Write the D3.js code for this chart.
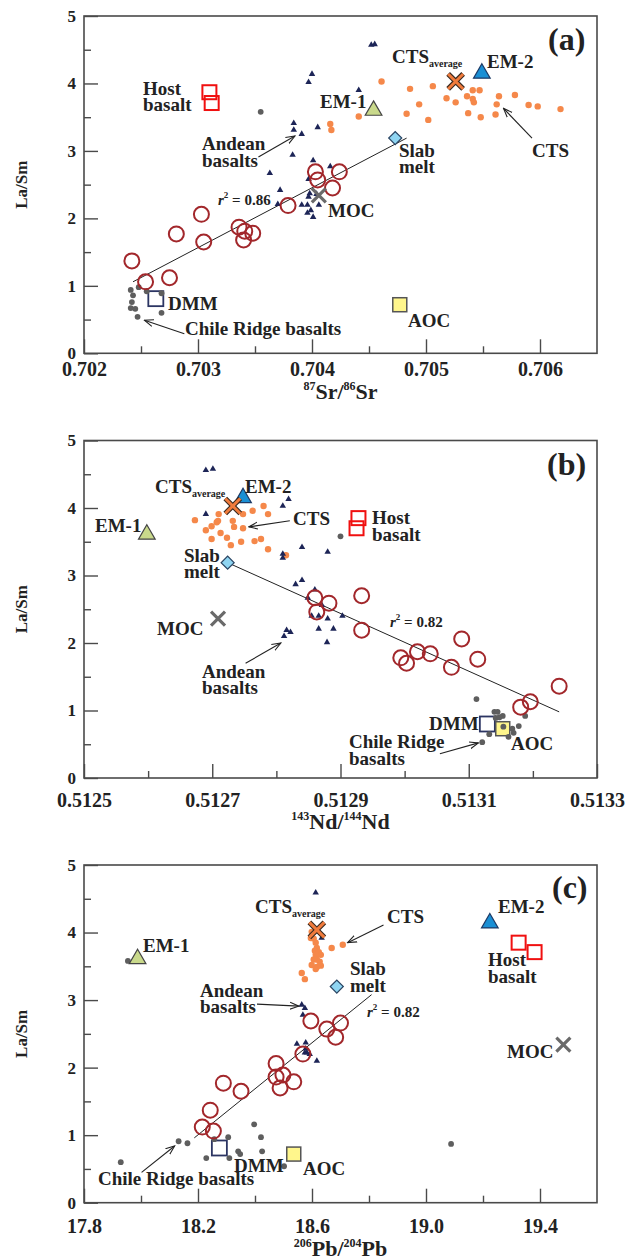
<!DOCTYPE html>
<html>
<head>
<meta charset="utf-8">
<script src="https://cdn.jsdelivr.net/npm/d3@7"></script>
<style>
body { margin: 0; background: #fff; }
text { font-family: "Liberation Serif", "Times New Roman", serif; font-weight: bold; fill: #222; }
</style>
</head>
<body>
<svg id="chart" width="629" height="1260"></svg>
<script>
// ---- panel (a): La/Sm vs 87Sr/86Sr
var aCircles = [[0.70242,1.37],[0.70254,1.06],[0.70275,1.12],[0.70281,1.77],[0.70303,2.06],[0.70305,1.65],[0.70336,1.87],[0.70341,1.81],[0.70340,1.68],[0.70348,1.78],[0.70379,2.19],[0.70403,2.69],[0.70405,2.57],[0.70424,2.69],[0.70418,2.45]];
var aAndean = [[0.70400,4.14],[0.70397,4.02],[0.70384,3.41],[0.70384,3.31],[0.70391,3.25],[0.70405,3.35],[0.70383,2.94],[0.70401,2.86],[0.70363,2.67],[0.70416,2.77],[0.70397,2.58],[0.70372,2.42],[0.70370,2.21],[0.70398,2.37],[0.70397,2.32],[0.70404,2.36],[0.70391,2.20],[0.70396,2.20],[0.70399,2.12],[0.70406,2.20],[0.70401,2.02],[0.70396,2.08],[0.70452,4.57],[0.70455,4.58],[0.70441,3.90]];
var aChile = [[0.70241,0.94],[0.70243,0.86],[0.70242,0.76],[0.70241,0.67],[0.70245,0.66],[0.70248,0.98],[0.70247,0.54],[0.70268,0.89],[0.70268,0.60],[0.70255,0.92],[0.70355,3.58]];
var aCTS = [[0.70461,4.03],[0.70486,3.92],[0.70506,3.96],[0.70518,3.78],[0.70526,3.72],[0.70536,3.81],[0.70541,3.90],[0.70547,3.90],[0.70541,3.77],[0.70542,3.72],[0.70494,3.69],[0.70483,3.55],[0.70502,3.46],[0.70537,3.56],[0.70548,3.50],[0.70561,3.54],[0.70562,3.69],[0.70564,3.81],[0.70578,3.83],[0.70590,3.68],[0.70598,3.66],[0.70618,3.62],[0.70441,3.51],[0.70416,3.40],[0.70417,3.31]];
var aHost = [[0.70310,3.87],[0.70312,3.71]];
var aEnds = { em1: [0.70454,3.60], em2: [0.70549,4.15], avg: [0.70526,4.03], slab: [0.70473,3.19], moc: [0.70406,2.34], dmm: [0.70263,0.81], aoc: [0.70477,0.72] };
var aFit = [[0.70243,1.06],[0.70483,3.19]];
var aArrows = [[[0.70353,2.91],[0.70385,3.22]], [[0.70593,3.19],[0.70568,3.63]], [[0.70288,0.29],[0.70253,0.49]]];

// ---- panel (b): La/Sm vs 143Nd/144Nd
var bCircles = [[0.512860,2.67],[0.512882,2.59],[0.512863,2.46],[0.512933,2.70],[0.512933,2.19],[0.512994,1.78],[0.513003,1.70],[0.513020,1.87],[0.513040,1.84],[0.513073,1.64],[0.513089,2.06],[0.513114,1.76],[0.513181,1.05],[0.513196,1.13],[0.513241,1.36]];
var bAndean = [[0.512690,4.56],[0.512701,4.58],[0.512690,3.91],[0.512810,4.03],[0.512819,4.13],[0.512810,3.32],[0.512810,3.26],[0.512840,3.42],[0.512880,3.35],[0.512830,2.87],[0.512840,2.93],[0.512860,2.79],[0.512849,2.67],[0.512871,2.56],[0.512816,2.19],[0.512822,2.16],[0.512812,2.10],[0.512855,2.40],[0.512866,2.40],[0.512880,2.36],[0.512866,2.21],[0.512889,2.21],[0.512879,2.01],[0.512903,2.40]];
var bChile = [[0.513112,1.17],[0.513140,0.98],[0.513145,0.98],[0.513142,0.89],[0.513153,0.92],[0.513188,0.92],[0.513154,0.76],[0.513168,0.73],[0.513178,0.77],[0.513170,0.67],[0.513162,0.61],[0.513132,0.65],[0.513121,0.53],[0.513148,0.90],[0.512900,3.58]];
var bCTS = [[0.512673,3.82],[0.512690,3.67],[0.512699,3.73],[0.512699,3.54],[0.512707,3.79],[0.512710,3.91],[0.512709,3.81],[0.512713,3.63],[0.512723,3.56],[0.512729,3.45],[0.512732,3.81],[0.512734,3.72],[0.512745,3.50],[0.512748,3.91],[0.512748,3.70],[0.512763,3.96],[0.512780,4.03],[0.512787,3.91],[0.512766,3.51],[0.512776,3.54],[0.512787,3.39],[0.512815,3.30]];
var bHost = [[0.512928,3.85],[0.512925,3.70]];
var bEnds = { em1: [0.512598,3.61], em2: [0.512748,4.15], avg: [0.512732,4.03], slab: [0.512724,3.19], moc: [0.512709,2.36], dmm: [0.513129,0.80], aoc: [0.513153,0.73] };
var bFit = [[0.512724,3.19],[0.513241,0.98]];
var bArrows = [[[0.512821,3.81],[0.512757,3.72]], [[0.512752,1.70],[0.512807,2.00]], [[0.513055,0.36],[0.513115,0.52]]];

// ---- panel (c): La/Sm vs 206Pb/204Pb
var cCircles = [[18.596,2.69],[18.652,2.57],[18.700,2.66],[18.683,2.45],[18.568,2.20],[18.474,2.06],[18.474,1.86],[18.498,1.89],[18.536,1.79],[18.488,1.70],[18.351,1.65],[18.289,1.77],[18.243,1.37],[18.215,1.12],[18.254,1.06]];
var cAndean = [[18.613,4.59],[18.634,3.92],[18.617,4.03],[18.564,2.93],[18.575,2.88],[18.568,2.78],[18.547,2.35],[18.578,2.37],[18.575,2.22],[18.582,2.22],[18.592,2.20],[18.617,2.10],[18.578,2.28]];
var cChile = [[17.954,3.58],[17.929,0.60],[18.132,0.91],[18.163,0.88],[18.229,0.66],[18.257,0.94],[18.306,0.97],[18.310,0.66],[18.341,0.76],[18.348,0.72],[18.397,1.16],[18.421,0.97],[18.425,0.76],[18.502,0.54],[19.088,0.87]];
var cCTS = [[18.564,3.40],[18.575,3.31],[18.596,3.92],[18.599,4.01],[18.606,3.91],[18.613,3.85],[18.617,3.77],[18.610,3.73],[18.624,3.71],[18.631,3.67],[18.613,3.67],[18.606,3.60],[18.617,3.60],[18.627,3.57],[18.599,3.52],[18.617,3.49],[18.613,3.46],[18.631,3.51],[18.669,3.77],[18.708,3.82]];
var cHost = [[19.325,3.85],[19.381,3.71]];
var cEnds = { em1: [17.988,3.61], em2: [19.224,4.14], avg: [18.617,4.04], slab: [18.687,3.20], moc: [19.482,2.34], dmm: [18.275,0.81], aoc: [18.536,0.72] };
var cFit = [[18.187,0.96],[18.809,3.08]];
var cArrows = [[[18.407,2.94],[18.554,2.91]], [[18.851,4.11],[18.725,3.85]], [[18.002,0.45],[18.118,0.84]]];

var yMajor = [0, 1, 2, 3, 4, 5];
var yMinor = [0.5, 1.5, 2.5, 3.5, 4.5];

var svg = d3.select("#chart");
var L = 84, R = 597;

svg.append("defs").append("marker").
  attr("id", "arrow").
  attr("viewBox", "0 -5 10 10").
  attr("refX", 9).attr("refY", 0).
  attr("markerWidth", 10).attr("markerHeight", 10).
  attr("markerUnits", "userSpaceOnUse").
  attr("orient", "auto").
  append("path").
  attr("d", "M0,-3.5L9,0L0,3.5").
  attr("fill", "none").
  attr("stroke", "#222").
  attr("stroke-width", 1.1);

var crossPath = function(s) {
  return "M" + (-s) + "," + (-s) + "L" + s + "," + s + "M" + (-s) + "," + s + "L" + s + "," + (-s);
};

var build = function(p) {
  var x = d3.scaleLinear().domain(p.xDomain).range([L, R]);
  var y = d3.scaleLinear().domain([0, 5]).range([p.bottom, p.top]);
  var g = svg.append("g");
  var pos = function(d) { return "translate(" + x(d[0]) + "," + y(d[1]) + ")"; };

  // axes (ticks point inward)
  var xa = g.append("g").
    attr("transform", "translate(0," + p.bottom + ")").
    call(d3.axisBottom(x).tickValues(p.xMajor).tickSize(-14).tickSizeOuter(0).tickPadding(p.tickPad).tickFormat(d3.format(p.fmt)));
  g.append("g").
    attr("transform", "translate(0," + p.bottom + ")").
    call(d3.axisBottom(x).tickValues(p.xMinor).tickSize(-7).tickSizeOuter(0).tickFormat(""));
  var ya = g.append("g").
    attr("transform", "translate(" + L + ",0)").
    call(d3.axisLeft(y).tickValues(yMajor).tickSize(-14).tickSizeOuter(0).tickPadding(8).tickFormat(d3.format("d")));
  g.append("g").
    attr("transform", "translate(" + L + ",0)").
    call(d3.axisLeft(y).tickValues(yMinor).tickSize(-7).tickSizeOuter(0).tickFormat(""));
  g.selectAll(".domain").remove();
  g.selectAll(".tick line").attr("stroke", "#4a4a4a").attr("stroke-width", 1.4);
  xa.attr("font-size", 20).attr("font-family", null);
  ya.attr("font-size", 17).attr("font-family", null);

  g.append("rect").
    attr("x", L).attr("y", p.top).
    attr("width", R - L).attr("height", p.bottom - p.top).
    attr("fill", "none").attr("stroke", "#4a4a4a").attr("stroke-width", 1.6);

  // regression line
  g.append("line").
    attr("x1", x(p.fit[0][0])).attr("y1", y(p.fit[0][1])).
    attr("x2", x(p.fit[1][0])).attr("y2", y(p.fit[1][1])).
    attr("stroke", "#222").attr("stroke-width", 1);

  // squares below the data
  g.selectAll(".host").data(p.host).enter().append("rect").
    attr("x", function(d) { return x(d[0]) - 7; }).
    attr("y", function(d) { return y(d[1]) - 7; }).
    attr("width", 14).attr("height", 14).
    attr("fill", "none").attr("stroke", "#f01010").attr("stroke-width", 2);
  g.append("rect").
    attr("x", x(p.ends.dmm[0]) - 7.5).attr("y", y(p.ends.dmm[1]) - 7.5).
    attr("width", 15).attr("height", 15).
    attr("fill", "#fff").attr("stroke", "#2c3563").attr("stroke-width", 1.8);
  g.append("rect").
    attr("x", x(p.ends.aoc[0]) - 7).attr("y", y(p.ends.aoc[1]) - 7).
    attr("width", 14).attr("height", 14).
    attr("fill", "#fff68c").attr("stroke", "#555").attr("stroke-width", 1.5);

  g.selectAll(".chile").data(p.chile).enter().append("circle").
    attr("cx", function(d) { return x(d[0]); }).
    attr("cy", function(d) { return y(d[1]); }).
    attr("r", 2.9).attr("fill", "#5e5e5e");
  g.selectAll(".cts").data(p.cts).enter().append("circle").
    attr("cx", function(d) { return x(d[0]); }).
    attr("cy", function(d) { return y(d[1]); }).
    attr("r", 3.2).attr("fill", "#f5884a");
  g.selectAll(".andean").data(p.andean).enter().append("path").
    attr("transform", pos).
    attr("d", d3.symbol(d3.symbolTriangle, 18)).
    attr("fill", "#1d2557");
  g.selectAll(".sample").data(p.circles).enter().append("circle").
    attr("cx", function(d) { return x(d[0]); }).
    attr("cy", function(d) { return y(d[1]); }).
    attr("r", 7.5).attr("fill", "none").attr("stroke", "#a2272b").attr("stroke-width", 2);

  // end members
  g.append("path").attr("transform", pos(p.ends.em1)).
    attr("d", d3.symbol(d3.symbolTriangle, 120)).
    attr("fill", "#c9d98b").attr("stroke", "#444").attr("stroke-width", 1.2);
  g.append("path").attr("transform", pos(p.ends.em2)).
    attr("d", d3.symbol(d3.symbolTriangle, 120)).
    attr("fill", "#1a8fd4").attr("stroke", "#1d3a66").attr("stroke-width", 1.2);
  g.append("path").attr("transform", pos(p.ends.slab) + " rotate(45)").
    attr("d", d3.symbol(d3.symbolSquare, 85)).
    attr("fill", "#8fd5f2").attr("stroke", "#2a4563").attr("stroke-width", 1.2);
  g.append("path").attr("transform", pos(p.ends.moc)).
    attr("d", crossPath(7)).
    attr("stroke", "#6a6a6a").attr("stroke-width", 3.2).attr("fill", "none");
  g.append("path").attr("transform", pos(p.ends.avg)).
    attr("d", crossPath(7.5)).
    attr("stroke", "#3a2a20").attr("stroke-width", 5.2).attr("fill", "none");
  g.append("path").attr("transform", pos(p.ends.avg)).
    attr("d", crossPath(7.5)).
    attr("stroke", "#f07b3c").attr("stroke-width", 3).attr("fill", "none");

  // arrows
  g.selectAll(".arrow").data(p.arrows).enter().append("line").
    attr("x1", function(d) { return x(d[0][0]); }).
    attr("y1", function(d) { return y(d[0][1]); }).
    attr("x2", function(d) { return x(d[1][0]); }).
    attr("y2", function(d) { return y(d[1][1]); }).
    attr("stroke", "#222").attr("stroke-width", 1.1).
    attr("marker-end", "url(#arrow)");

  // labels
  p.labels.forEach(function(l) {
    var t = g.append("text").
      attr("x", L + l.x).attr("y", p.top + l.y).
      style("font-size", (l.size || 19) + "px");
    if (l.sub) {
      t.append("tspan").text(l.t);
      t.append("tspan").style("font-size", "10px").attr("dy", 4).text(l.sub);
    } else if (l.r2) {
      t.style("font-size", "15px");
      t.append("tspan").style("font-style", "italic").text("r");
      t.append("tspan").style("font-size", "9px").attr("dy", -7).text("2");
      t.append("tspan").attr("dy", 7).text(" = " + l.r2);
    } else {
      t.text(l.t);
    }
  });

  // axis titles
  var xt = g.append("text").
    attr("x", (L + R) / 2).attr("y", p.bottom + p.titlePad).
    attr("text-anchor", "middle").style("font-size", "22px");
  p.title.forEach(function(s, i) {
    if (i % 2 === 0) {
      xt.append("tspan").style("font-size", "12px").attr("dy", i === 0 ? -9 : -9).text(s);
    } else {
      xt.append("tspan").attr("dy", 9).text(s);
    }
  });
  g.append("text").
    attr("transform", "translate(27," + (p.top + p.bottom) / 2 + ") rotate(-90)").
    attr("text-anchor", "middle").style("font-size", "17px").
    text("La/Sm");
};

build({
  top: 16, bottom: 353.3, tickPad: 9, titlePad: 46, fmt: ".3f",
  xDomain: [0.702, 0.7065],
  xMajor: [0.702, 0.703, 0.704, 0.705, 0.706],
  xMinor: [0.7025, 0.7035, 0.7045, 0.7055],
  circles: aCircles, andean: aAndean, chile: aChile, cts: aCTS, host: aHost, ends: aEnds, fit: aFit, arrows: aArrows,
  title: ["87", "Sr/", "86", "Sr"],
  labels: [
    { t: "Host", x: 59, y: 79 }, { t: "basalt", x: 59, y: 95 },
    { t: "Andean", x: 118, y: 134 }, { t: "basalts", x: 118, y: 151 },
    { t: "EM-1", x: 236, y: 92 },
    { t: "Slab", x: 315, y: 141 }, { t: "melt", x: 315, y: 157 },
    { t: "CTS", sub: "average", x: 308, y: 47 },
    { t: "EM-2", x: 403, y: 52 },
    { t: "CTS", x: 448, y: 141 },
    { t: "(a)", x: 464, y: 34, size: 32 },
    { r2: "0.86", x: 134, y: 189 },
    { t: "MOC", x: 244, y: 201 },
    { t: "DMM", x: 84, y: 294 },
    { t: "Chile Ridge basalts", x: 101, y: 319 },
    { t: "AOC", x: 324, y: 311 }
  ]
});

build({
  top: 440.5, bottom: 778, tickPad: 15, titlePad: 51, fmt: ".4f",
  xDomain: [0.5125, 0.5133],
  xMajor: [0.5125, 0.5127, 0.5129, 0.5131, 0.5133],
  xMinor: [0.5126, 0.5128, 0.5130, 0.5132],
  circles: bCircles, andean: bAndean, chile: bChile, cts: bCTS, host: bHost, ends: bEnds, fit: bFit, arrows: bArrows,
  title: ["143", "Nd/", "144", "Nd"],
  labels: [
    { t: "CTS", sub: "average", x: 71, y: 52.5 },
    { t: "EM-2", x: 161, y: 52.5 },
    { t: "EM-1", x: 11, y: 91.5 },
    { t: "CTS", x: 209, y: 84.5 },
    { t: "Slab", x: 100, y: 121.5 }, { t: "melt", x: 100, y: 137.5 },
    { t: "Host", x: 288, y: 83.5 }, { t: "basalt", x: 288, y: 100.5 },
    { t: "(b)", x: 463, y: 34.5, size: 32 },
    { t: "MOC", x: 73, y: 194.5 },
    { t: "Andean", x: 118, y: 237.5 }, { t: "basalts", x: 118, y: 253.5 },
    { r2: "0.82", x: 306, y: 186.5 },
    { t: "DMM", x: 345, y: 289.5 },
    { t: "AOC", x: 427, y: 309.5 },
    { t: "Chile Ridge", x: 265, y: 307.5 }, { t: "basalts", x: 265, y: 324.5 }
  ]
});

build({
  top: 865, bottom: 1202.7, tickPad: 16, titlePad: 53, fmt: ".1f",
  xDomain: [17.8, 19.6],
  xMajor: [17.8, 18.2, 18.6, 19.0, 19.4],
  xMinor: [18.0, 18.4, 18.8, 19.2],
  circles: cCircles, andean: cAndean, chile: cChile, cts: cCTS, host: cHost, ends: cEnds, fit: cFit, arrows: cArrows,
  title: ["206", "Pb/", "204", "Pb"],
  labels: [
    { t: "EM-1", x: 59, y: 87 },
    { t: "CTS", sub: "average", x: 171, y: 48 },
    { t: "Andean", x: 116, y: 132 }, { t: "basalts", x: 116, y: 148 },
    { t: "CTS", x: 303, y: 58 },
    { t: "Slab", x: 266, y: 110 }, { t: "melt", x: 266, y: 127 },
    { r2: "0.82", x: 283, y: 152 },
    { t: "EM-2", x: 414, y: 48 },
    { t: "Host", x: 404, y: 101 }, { t: "basalt", x: 404, y: 118 },
    { t: "(c)", x: 468, y: 33, size: 32 },
    { t: "MOC", x: 423, y: 193 },
    { t: "DMM", x: 150, y: 307 },
    { t: "AOC", x: 219, y: 310 },
    { t: "Chile Ridge basalts", x: 14, y: 320 }
  ]
});
</script>
</body>
</html>
